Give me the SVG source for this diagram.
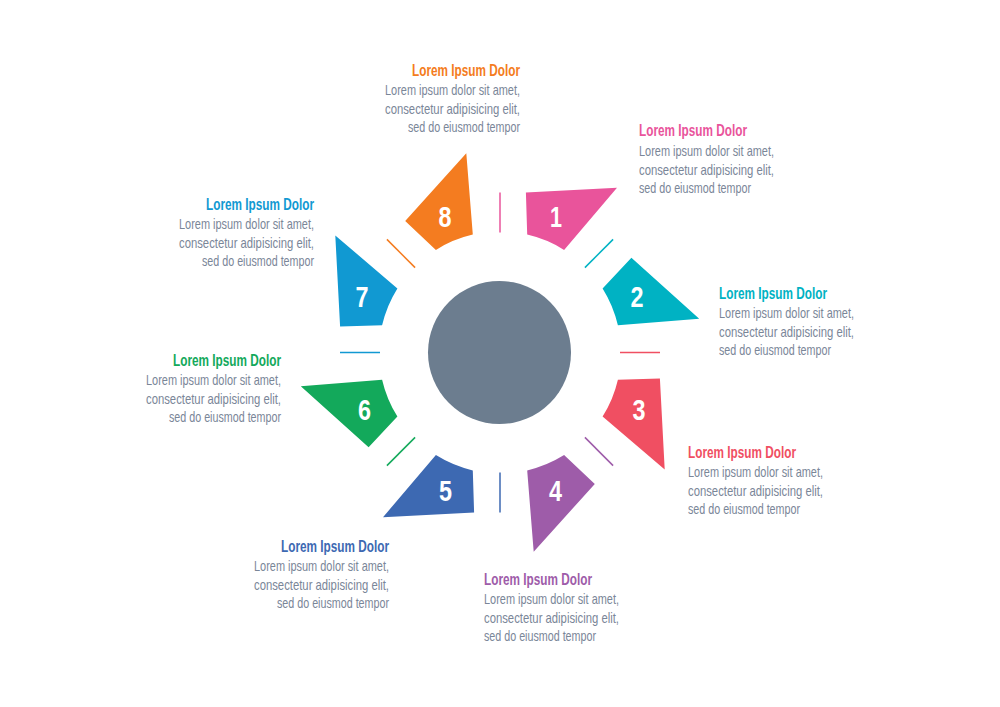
<svg xmlns="http://www.w3.org/2000/svg" width="1000" height="707" viewBox="0 0 1000 707">
  <style>
    .num { font-family: "Liberation Sans Narrow", "Liberation Sans", Arial, sans-serif; font-weight: bold; font-size: 30px; fill: #ffffff; text-anchor: start; }
    .title { font-family: "Liberation Sans Narrow", "Liberation Sans", Arial, sans-serif; font-weight: bold; font-size: 16.5px; }
    .body { font-family: "Liberation Sans Narrow", "Liberation Sans", Arial, sans-serif; font-size: 15px; fill: #7a8698; }
    .div { stroke-width: 1.5; fill: none; }
  </style>
  <rect x="0" y="0" width="1000" height="707" fill="#ffffff"/>

  <g id="center">
    <circle cx="499.5" cy="352.5" r="71.5" fill="#6c7d8f"/>
  </g>

  <g id="connectors">
    <line class="div" x1="500" y1="232.5" x2="500" y2="192.5" stroke="#e9549b"/>
    <line class="div" x1="584.9" y1="267.6" x2="613.1" y2="239.4" stroke="#00b2c3"/>
    <line class="div" x1="620" y1="352.5" x2="660" y2="352.5" stroke="#f04f62"/>
    <line class="div" x1="584.9" y1="437.4" x2="613.1" y2="465.6" stroke="#9e5ca9"/>
    <line class="div" x1="500" y1="472.5" x2="500" y2="512.5" stroke="#3d69b2"/>
    <line class="div" x1="415.1" y1="437.4" x2="386.9" y2="465.6" stroke="#13a95b"/>
    <line class="div" x1="380" y1="352.5" x2="340" y2="352.5" stroke="#1199d2"/>
    <line class="div" x1="415.1" y1="267.6" x2="386.9" y2="239.4" stroke="#f47c20"/>
  </g>

  <g id="node1">
    <path d="M525.9 192.6 L617 187.8 L564.1 249.9 A121 121 0 0 0 527.2 234.6 Z" fill="#e9549b"/>
    <text class="num" x="550" y="227" textLength="12" lengthAdjust="spacingAndGlyphs">1</text>
    <text class="title" x="639" y="136.3" fill="#e9549b" textLength="108" lengthAdjust="spacingAndGlyphs">Lorem Ipsum Dolor</text>
    <text class="body" x="639" y="156" textLength="135" lengthAdjust="spacingAndGlyphs">Lorem ipsum dolor sit amet,</text>
    <text class="body" x="639" y="174.5" textLength="135" lengthAdjust="spacingAndGlyphs">consectetur adipisicing elit,</text>
    <text class="body" x="639" y="192.9" textLength="112" lengthAdjust="spacingAndGlyphs">sed do eiusmod tempor</text>
  </g>

  <g id="node2">
    <path d="M631.4 257.7 L699.2 318.8 L617.9 325.3 A121 121 0 0 0 602.6 288.4 Z" fill="#00b2c3"/>
    <text class="num" x="630.5" y="307" textLength="13" lengthAdjust="spacingAndGlyphs">2</text>
    <text class="title" x="719" y="298.5" fill="#00b2c3" textLength="108" lengthAdjust="spacingAndGlyphs">Lorem Ipsum Dolor</text>
    <text class="body" x="719" y="318.2" textLength="135" lengthAdjust="spacingAndGlyphs">Lorem ipsum dolor sit amet,</text>
    <text class="body" x="719" y="336.7" textLength="135" lengthAdjust="spacingAndGlyphs">consectetur adipisicing elit,</text>
    <text class="body" x="719" y="355.1" textLength="112" lengthAdjust="spacingAndGlyphs">sed do eiusmod tempor</text>
  </g>

  <g id="node3">
    <path d="M659.9 378.4 L664.7 469.5 L602.6 416.6 A121 121 0 0 0 617.9 379.7 Z" fill="#f04f62"/>
    <text class="num" x="632.5" y="420" textLength="13" lengthAdjust="spacingAndGlyphs">3</text>
    <text class="title" x="688" y="457.5" fill="#f04f62" textLength="108" lengthAdjust="spacingAndGlyphs">Lorem Ipsum Dolor</text>
    <text class="body" x="688" y="477.2" textLength="135" lengthAdjust="spacingAndGlyphs">Lorem ipsum dolor sit amet,</text>
    <text class="body" x="688" y="495.7" textLength="135" lengthAdjust="spacingAndGlyphs">consectetur adipisicing elit,</text>
    <text class="body" x="688" y="514.1" textLength="112" lengthAdjust="spacingAndGlyphs">sed do eiusmod tempor</text>
  </g>

  <g id="node4">
    <path d="M594.8 483.9 L533.7 551.7 L527.2 470.4 A121 121 0 0 0 564.1 455.1 Z" fill="#9e5ca9"/>
    <text class="num" x="549" y="501" textLength="13" lengthAdjust="spacingAndGlyphs">4</text>
    <text class="title" x="484" y="584.5" fill="#9e5ca9" textLength="108" lengthAdjust="spacingAndGlyphs">Lorem Ipsum Dolor</text>
    <text class="body" x="484" y="604.2" textLength="135" lengthAdjust="spacingAndGlyphs">Lorem ipsum dolor sit amet,</text>
    <text class="body" x="484" y="622.7" textLength="135" lengthAdjust="spacingAndGlyphs">consectetur adipisicing elit,</text>
    <text class="body" x="484" y="641.1" textLength="112" lengthAdjust="spacingAndGlyphs">sed do eiusmod tempor</text>
  </g>

  <g id="node5">
    <path d="M474.1 512.4 L383 517.2 L435.9 455.1 A121 121 0 0 0 472.8 470.4 Z" fill="#3d69b2"/>
    <text class="num" x="439" y="501" textLength="13" lengthAdjust="spacingAndGlyphs">5</text>
    <text class="title" x="281" y="551.5" fill="#3d69b2" textLength="108" lengthAdjust="spacingAndGlyphs">Lorem Ipsum Dolor</text>
    <text class="body" x="254" y="571.2" textLength="135" lengthAdjust="spacingAndGlyphs">Lorem ipsum dolor sit amet,</text>
    <text class="body" x="254" y="589.7" textLength="135" lengthAdjust="spacingAndGlyphs">consectetur adipisicing elit,</text>
    <text class="body" x="277" y="608.1" textLength="112" lengthAdjust="spacingAndGlyphs">sed do eiusmod tempor</text>
  </g>

  <g id="node6">
    <path d="M368.6 447.3 L300.8 386.2 L382.1 379.7 A121 121 0 0 0 397.4 416.6 Z" fill="#13a95b"/>
    <text class="num" x="358" y="420" textLength="13" lengthAdjust="spacingAndGlyphs">6</text>
    <text class="title" x="173" y="365.5" fill="#13a95b" textLength="108" lengthAdjust="spacingAndGlyphs">Lorem Ipsum Dolor</text>
    <text class="body" x="146" y="385.2" textLength="135" lengthAdjust="spacingAndGlyphs">Lorem ipsum dolor sit amet,</text>
    <text class="body" x="146" y="403.7" textLength="135" lengthAdjust="spacingAndGlyphs">consectetur adipisicing elit,</text>
    <text class="body" x="169" y="422.1" textLength="112" lengthAdjust="spacingAndGlyphs">sed do eiusmod tempor</text>
  </g>

  <g id="node7">
    <path d="M340.1 326.6 L335.3 235.5 L397.4 288.4 A121 121 0 0 0 382.1 325.3 Z" fill="#1199d2"/>
    <text class="num" x="355.5" y="307" textLength="13" lengthAdjust="spacingAndGlyphs">7</text>
    <text class="title" x="206" y="209.5" fill="#1199d2" textLength="108" lengthAdjust="spacingAndGlyphs">Lorem Ipsum Dolor</text>
    <text class="body" x="179" y="229.2" textLength="135" lengthAdjust="spacingAndGlyphs">Lorem ipsum dolor sit amet,</text>
    <text class="body" x="179" y="247.7" textLength="135" lengthAdjust="spacingAndGlyphs">consectetur adipisicing elit,</text>
    <text class="body" x="202" y="266.1" textLength="112" lengthAdjust="spacingAndGlyphs">sed do eiusmod tempor</text>
  </g>

  <g id="node8">
    <path d="M405.2 221.1 L466.3 153.3 L472.8 234.6 A121 121 0 0 0 435.9 249.9 Z" fill="#f47c20"/>
    <text class="num" x="438.5" y="227" textLength="13" lengthAdjust="spacingAndGlyphs">8</text>
    <text class="title" x="412" y="75.5" fill="#f47c20" textLength="108" lengthAdjust="spacingAndGlyphs">Lorem Ipsum Dolor</text>
    <text class="body" x="385" y="95.2" textLength="135" lengthAdjust="spacingAndGlyphs">Lorem ipsum dolor sit amet,</text>
    <text class="body" x="385" y="113.7" textLength="135" lengthAdjust="spacingAndGlyphs">consectetur adipisicing elit,</text>
    <text class="body" x="408" y="132.1" textLength="112" lengthAdjust="spacingAndGlyphs">sed do eiusmod tempor</text>
  </g>
</svg>
